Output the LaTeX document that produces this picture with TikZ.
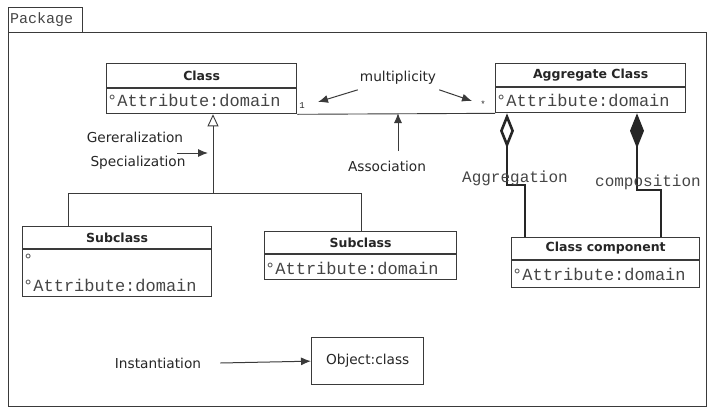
\documentclass[tikz,border=0pt]{standalone}
\usepackage{fontspec}
\setmainfont{DejaVu Sans}
\newfontfamily\monofont{Liberation Mono}
\usetikzlibrary{arrows.meta}
\definecolor{ln}{HTML}{3A3A3A}
\definecolor{tx}{HTML}{262626}
\definecolor{mtx}{HTML}{454545}
\begin{document}
\begin{tikzpicture}[x=1pt,y=-1pt,
  box/.style={draw=ln, line width=1.3pt, inner sep=0pt, anchor=north west},
  dv/.style={draw=ln, line width=1.2pt},
  ttl/.style={font=\fontsize{12.5}{14}\selectfont\bfseries, text=tx, inner sep=0pt},
  attr/.style={font=\monofont\fontsize{17}{19}\selectfont, text=mtx, anchor=west, inner sep=0pt},
  mono/.style={font=\monofont\fontsize{16}{18}\selectfont, text=mtx, inner sep=0pt},
  lbl/.style={font=\fontsize{13.7}{16}\selectfont, text=tx, inner sep=0pt},
  tiny/.style={font=\monofont\fontsize{9}{10}\selectfont, text=tx, inner sep=0pt},
  arr/.style={-{Latex[length=10pt,width=8pt]}, line width=1pt, draw=ln},
  thk/.style={line width=2.6pt, draw=black!85},
  gen/.style={line width=0.9pt, draw=ln}]
\useasboundingbox (0,0) rectangle (709,408);
% package frame
\node[box, minimum width=698pt, minimum height=374pt] (frame) at (8,32) {};
\node[box, minimum width=74pt, minimum height=25pt] (tab) at (8,7) {};
\node[font=\monofont\fontsize{15}{17}\selectfont, text=mtx, anchor=west, inner sep=0pt] (pkg) at (10,19.5) {Package};
% Class
\node[box, minimum width=190pt, minimum height=50pt] (cls) at (106,63) {};
\draw[dv] ([yshift=-25pt]cls.north west) -- ([yshift=-25pt]cls.north east);
\node[ttl] (clsT) at ([yshift=-12.5pt]cls.north) {Class};
\node[attr] (clsA) at ([xshift=1pt,yshift=-37pt]cls.north west) {°Attribute:domain};
% Aggregate Class
\node[box, minimum width=190pt, minimum height=49pt] (agg) at (495,63) {};
\draw[dv] ([yshift=-24pt]agg.north west) -- ([yshift=-24pt]agg.north east);
\node[ttl] (aggT) at ([yshift=-12pt]agg.north) {Aggregate Class};
\node[attr] (aggA) at ([xshift=1pt,yshift=-37pt]agg.north west) {°Attribute:domain};
% Left subclass
\node[box, minimum width=189pt, minimum height=70pt] (lsub) at (22,226) {};
\draw[dv] ([yshift=-23pt]lsub.north west) -- ([yshift=-23pt]lsub.north east);
\node[ttl] (lsubT) at ([yshift=-11.5pt]lsub.north) {Subclass};
\node[attr] (lsubA) at ([xshift=1pt,yshift=-34pt]lsub.north west) {°};
\node[attr] (lsubB) at ([xshift=1pt,yshift=-59pt]lsub.north west) {°Attribute:domain};
% Right subclass
\node[box, minimum width=192pt, minimum height=48pt] (rsub) at (264,231) {};
\draw[dv] ([yshift=-23pt]rsub.north west) -- ([yshift=-23pt]rsub.north east);
\node[ttl] (rsubT) at ([yshift=-11.5pt]rsub.north) {Subclass};
\node[attr] (rsubA) at ([xshift=1pt,yshift=-37pt]rsub.north west) {°Attribute:domain};
% Class component
\node[box, minimum width=188pt, minimum height=50pt] (comp) at (511,237) {};
\draw[dv] ([yshift=-23pt]comp.north west) -- ([yshift=-23pt]comp.north east);
\node[ttl] (compT) at ([yshift=-11.5pt]comp.north) {Class component};
\node[attr] (compA) at ([xshift=1pt,yshift=-37pt]comp.north west) {°Attribute:domain};
% Object
\node[box, minimum width=112pt, minimum height=47pt] (obj) at (311,337) {};
\node[lbl] (objT) at (obj.center) {Object:class};
% association
\draw[gen] (cls.south east) -- (agg.south west);
\node[tiny] (one) at (302,106) {1};
\node[tiny] (star) at (483,104) {*};
\node[lbl] (mult) at (398,78) {multiplicity};
\coordinate (m1) at (318,102);
\coordinate (m2) at (472,101);
\draw[arr] ([xshift=-2pt,yshift=-5pt]mult.south west) -- (m1);
\draw[arr] ([xshift=3pt,yshift=-5pt]mult.south east) -- (m2);
\node[lbl] (assoc) at (387,166) {Association};
\coordinate (at) at (398,113);
\draw[arr] (398,151) -- (at);
% generalization
\coordinate (gj) at (213,193);
\coordinate (gl) at (68,193);
\coordinate (gr) at (361,193);
\draw[gen] (gl) -- (gr);
\draw[gen] (gl) -- (gl |- lsub.north);
\draw[gen] (gr) -- (gr |- rsub.north);
\draw[gen, -{Triangle[open, length=12pt, width=11pt]}] (gj) -- (gj |- cls.south);
\node[lbl] (genT) at (135,137) {Gereralization};
\node[lbl] (specT) at (138,163) {Specialization};
\coordinate (gs) at (208,153);
\draw[arr] (177,153) -- (gs);
% aggregation and composition
\draw[thk, -{Diamond[open, length=35pt, width=14pt]}] ([xshift=14pt]comp.north west) |- (507,185) -- ([xshift=12pt]agg.south west);
\draw[thk, -{Diamond[length=35pt, width=14pt]}] ([xshift=150pt]comp.north west) |- (637,190) -- ([xshift=142pt]agg.south west);
\node[mono] (aggL) at (515,178) {Aggregation};
\node[mono] (compL) at (648,182) {composition};
% instantiation
\node[lbl] (inst) at (158,363) {Instantiation};
\draw[arr] ([xshift=19pt]inst.east) -- (obj.west);
\end{tikzpicture}
\end{document}
